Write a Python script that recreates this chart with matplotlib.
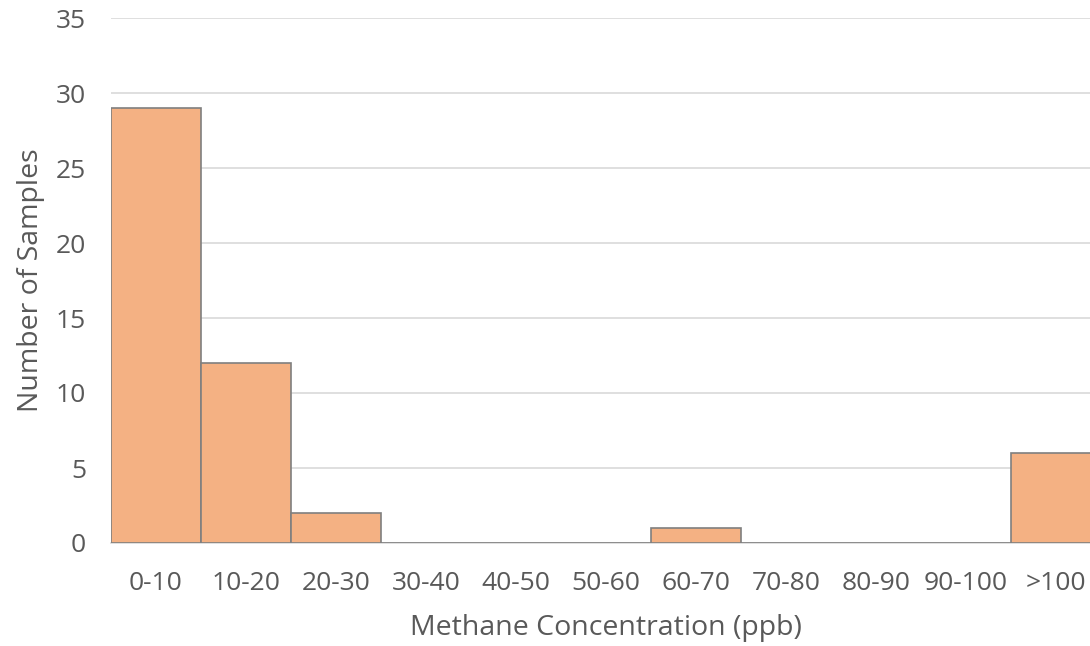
import matplotlib.pyplot as plt

# sample counts per methane concentration bin
bins = ['0-10', '10-20', '20-30', '30-40', '40-50', '50-60',
        '60-70', '70-80', '80-90', '90-100', '>100']
counts = [29, 12, 2, 0, 0, 0, 1, 0, 0, 0, 6]

plt.rcParams['font.family'] = ['Open Sans', 'DejaVu Sans']
txt = '#595959'

fig = plt.figure(figsize=(10.9, 6.46), dpi=100)
ax = fig.add_axes([111/1090, 103/646, 990/1090, 525/646])   # right side runs past the edge

ax.bar(range(len(bins)), counts, width=1.0, color='#F4B183',
       edgecolor='#7F7F7F', linewidth=1.2, zorder=3)

ax.set_xlim(-0.5, len(bins) - 0.5)
ax.set_ylim(0, 35)
ax.set_yticks(range(0, 36, 5))
ax.set_xticks(range(len(bins)))
ax.set_xticklabels(bins)

ax.grid(axis='y', color='#D9D9D9', linewidth=1.2, zorder=0)
for s in ['top', 'right', 'left']:
    ax.spines[s].set_visible(False)
ax.spines['bottom'].set_color('#D9D9D9')
ax.spines['bottom'].set_linewidth(1.2)

ax.tick_params(axis='both', length=0, labelsize=19, labelcolor=txt)
ax.tick_params(axis='y', pad=18)
ax.tick_params(axis='x', pad=20)

ax.set_xlabel('Methane Concentration (ppb)', fontsize=20.5, color=txt, labelpad=13)
ax.set_ylabel('Number of Samples', fontsize=20.5, color=txt, labelpad=8)

fig.savefig('out.png', dpi=100)
